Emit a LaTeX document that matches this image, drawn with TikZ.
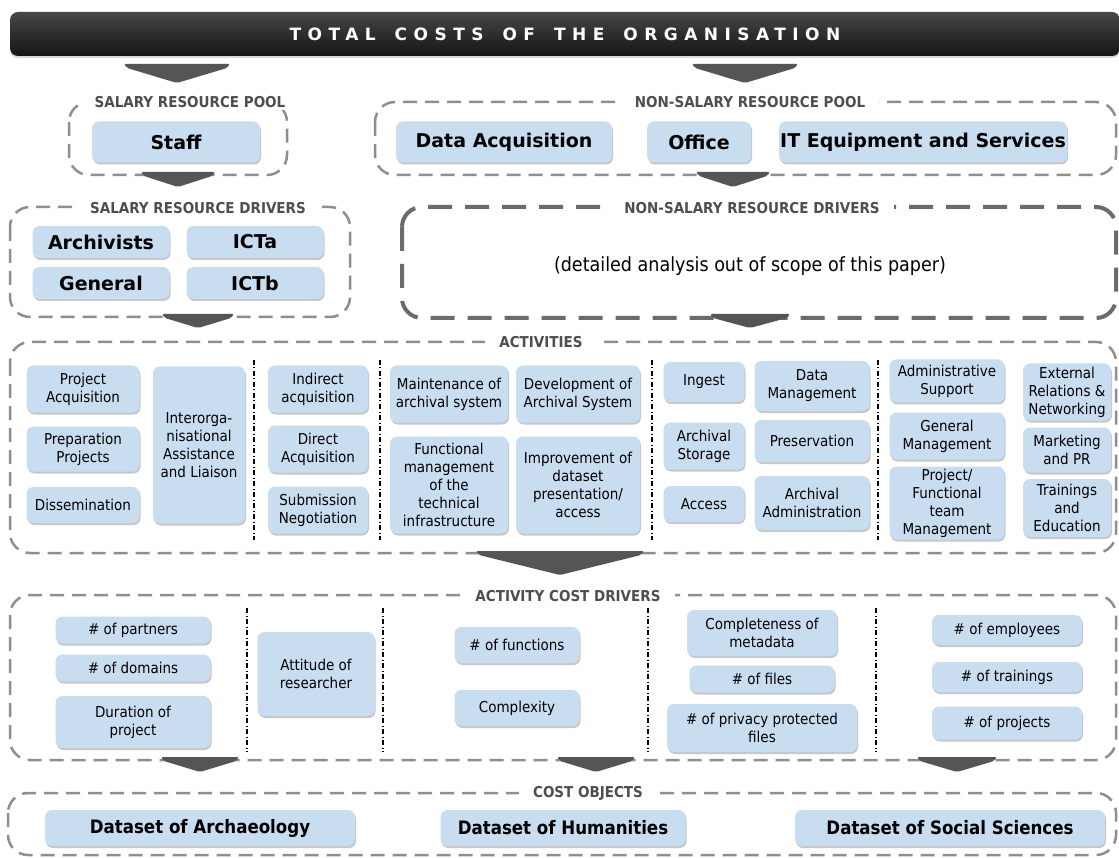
\documentclass[tikz,border=0pt]{standalone}
\usepackage{fontspec}
\setmainfont{DejaVu Sans Condensed}
\newfontfamily\widefam{DejaVu Sans}
\usetikzlibrary{positioning, shadows}

\definecolor{boxblue}{HTML}{C9DDF1}
\definecolor{dashgray}{HTML}{8E8E8E}
\definecolor{chevgray}{HTML}{555555}
\definecolor{labgray}{HTML}{4E4E4E}

\tikzset{
  act/.style={rectangle, rounded corners=7pt, fill=boxblue, inner sep=0pt, align=center,
    font=\fontsize{15}{18}\selectfont,
    drop shadow={shadow xshift=1pt, shadow yshift=-2pt, fill=black, opacity=0.22}},
  res/.style={act, font=\widefam\bfseries\fontsize{19}{21}\selectfont},
  obj/.style={act, font=\bfseries\fontsize{18.5}{21}\selectfont},
  grp/.style={draw=dashgray, line width=2.5pt, dash pattern=on 14pt off 8pt, rounded corners=20pt},
  grplabel/.style={fill=white, inner xsep=14pt, inner ysep=2pt, text=labgray,
    font=\bfseries\fontsize{15}{17}\selectfont},
  sep/.style={line width=1.3pt, dash pattern=on 5pt off 2.5pt on 1pt off 2.5pt},
  chev/.style={fill=chevgray, rounded corners=2pt},
}
\newcommand{\chevron}[4]{% centre x, top y, width, height
  \fill[chev] (#1-#3/2,#2) -- (#1+#3/2,#2) -- (#1+#3/2-3,#2+4) -- (#1,#2+#4) -- (#1-#3/2+3,#2+4) -- cycle;}
\newcommand{\wgap}{\hspace{19pt}}

\begin{document}
\begin{tikzpicture}[x=1pt, y=-1pt]
  \clip (0,0) rectangle (1119,858);
  \fill[white] (0,0) rectangle (1119,858);

  % header
  \node[rectangle, rounded corners=8pt, minimum width=1110pt, minimum height=44pt,
        top color=black!72, bottom color=black!92, text=white,
        drop shadow={shadow xshift=0pt, shadow yshift=-2pt, opacity=0.3},
        font=\widefam\bfseries\fontsize{17}{19}\selectfont\addfontfeature{LetterSpace=38}]
        (total) at (565,34) {TOTAL\wgap COSTS\wgap OF\wgap THE\wgap ORGANISATION};
  \chevron{177}{64}{106}{19}
  \chevron{745}{64}{106}{19}

  % resource pools
  \draw[grp] (69,102) rectangle (287,175);
  \draw[grp] (375,102) rectangle (1116,175);
  \node[grplabel] (lsalpool) at (190,102) {SALARY RESOURCE POOL};
  \node[grplabel] (lnonpool) at (750,102) {NON-SALARY RESOURCE POOL};
  \node[res, minimum width=168pt, minimum height=41pt] (staff) at (176,142) {Staff};
  \node[res, minimum width=216pt, minimum height=41pt] (dataacq) at (504,142) {Data Acquisition};
  \node[res, minimum width=104pt, minimum height=41pt] (office) at (699,142) {Office};
  \node[res, minimum width=288pt, minimum height=41pt] (itequip) at (923,142) {IT Equipment and Services};
  \chevron{178}{172}{74}{15}
  \chevron{733}{172}{74}{15}

  % resource drivers
  \draw[grp] (10,207) rectangle (350,317);
  \draw[grp, draw=black!58, line width=4pt, dash pattern=on 24pt off 13pt] (402,207) rectangle (1116,318);
  \node[grplabel] (lsaldrv) at (198,208) {SALARY RESOURCE DRIVERS};
  \node[grplabel] (lnondrv) at (752,208) {NON-SALARY RESOURCE DRIVERS};
  \node[res, minimum width=137pt, minimum height=32pt] (archiv) at (101,242) {Archivists};
  \node[res, minimum width=137pt, minimum height=32pt] (icta) at (255,242) {ICTa};
  \node[res, minimum width=137pt, minimum height=32pt] (general) at (101,283) {General};
  \node[res, minimum width=137pt, minimum height=32pt] (ictb) at (255,283) {ICTb};
  \node[font=\fontsize{19.5}{22}\selectfont] (scope) at (750,266) {(detailed analysis out of scope of this paper)};
  \chevron{198}{314}{72}{14}
  \chevron{750}{314}{80}{14}

  % activities
  \draw[grp] (10,342) rectangle (1116,553);
  \node[grplabel] (lact) at (541,342) {ACTIVITIES};
  \node[act, minimum width=113pt, minimum height=47pt] (pacq) at (83,389) {Project\\Acquisition};
  \node[act, minimum width=113pt, minimum height=45pt] (pprep) at (83,449) {Preparation\\Projects};
  \node[act, minimum width=113pt, minimum height=36pt] (dissem) at (83,505) {Dissemination};
  \node[act, minimum width=92pt, minimum height=157pt] (inter) at (199,445) {Interorga-\\nisational\\Assistance\\and Liaison};
  \draw[sep] (254,360) -- (254,540);
  \node[act, minimum width=100pt, minimum height=47pt] (indacq) at (318,389) {Indirect\\acquisition};
  \node[act, minimum width=100pt, minimum height=47pt] (diracq) at (318,449) {Direct\\Acquisition};
  \node[act, minimum width=100pt, minimum height=47pt] (subneg) at (318,510) {Submission\\Negotiation};
  \draw[sep] (380,360) -- (380,540);
  \node[act, minimum width=118pt, minimum height=57pt] (maint) at (449,394) {Maintenance of\\archival system};
  \node[act, minimum width=124pt, minimum height=57pt] (devel) at (578,394) {Development of\\Archival System};
  \node[act, minimum width=118pt, minimum height=97pt] (funcm) at (449,485) {Functional\\management\\of the\\technical\\infrastructure};
  \node[act, minimum width=124pt, minimum height=97pt] (improv) at (578,485) {Improvement of\\dataset\\presentation/\\access};
  \draw[sep] (652,360) -- (652,540);
  \node[act, minimum width=81pt, minimum height=40pt] (ingest) at (704,382) {Ingest};
  \node[act, minimum width=115pt, minimum height=50pt] (datam) at (812,386) {Data\\Management};
  \node[act, minimum width=81pt, minimum height=47pt] (astor) at (704,446) {Archival\\Storage};
  \node[act, minimum width=115pt, minimum height=42pt] (pres) at (812,441) {Preservation};
  \node[act, minimum width=81pt, minimum height=36pt] (access) at (704,504) {Access};
  \node[act, minimum width=115pt, minimum height=54pt] (aadmin) at (812,503) {Archival\\Administration};
  \draw[sep] (878,360) -- (878,540);
  \node[act, minimum width=115pt, minimum height=43pt] (admsup) at (947,381) {Administrative\\Support};
  \node[act, minimum width=115pt, minimum height=47pt] (genm) at (947,436) {General\\Management};
  \node[act, minimum width=115pt, minimum height=73pt] (projm) at (947,503) {Project/\\Functional\\team\\Management};
  \node[act, minimum width=88pt, minimum height=57pt] (extrel) at (1067,392) {External\\Relations \&\\Networking};
  \node[act, minimum width=88pt, minimum height=45pt] (market) at (1067,450) {Marketing\\and PR};
  \node[act, minimum width=88pt, minimum height=58pt] (trainedu) at (1067,508) {Trainings\\and\\Education};
  \chevron{560}{551}{168}{24}

  % activity cost drivers
  \draw[grp] (10,595) rectangle (1116,760);
  \node[grplabel] (lacd) at (568,596) {ACTIVITY COST DRIVERS};
  \node[act, minimum width=155pt, minimum height=27pt] (npart) at (133,630) {\# of partners};
  \node[act, minimum width=155pt, minimum height=27pt] (ndom) at (133,668) {\# of domains};
  \node[act, minimum width=155pt, minimum height=52pt] (dur) at (133,722) {Duration of\\project};
  \draw[sep] (247,608) -- (247,752);
  \node[act, minimum width=117pt, minimum height=84pt] (attit) at (316,674) {Attitude of\\researcher};
  \draw[sep] (383,608) -- (383,752);
  \node[act, minimum width=125pt, minimum height=36pt] (nfunc) at (517,645) {\# of functions};
  \node[act, minimum width=125pt, minimum height=36pt] (compl) at (517,708) {Complexity};
  \draw[sep] (648,608) -- (648,752);
  \node[act, minimum width=150pt, minimum height=46pt] (compmeta) at (762,633) {Completeness of\\metadata};
  \node[act, minimum width=145pt, minimum height=27pt] (nfiles) at (762,679) {\# of files};
  \node[act, minimum width=190pt, minimum height=48pt] (npriv) at (762,728) {\# of privacy protected\\files};
  \draw[sep] (876,608) -- (876,752);
  \node[act, minimum width=150pt, minimum height=30pt] (nemp) at (1007,630) {\# of employees};
  \node[act, minimum width=150pt, minimum height=30pt] (ntrain) at (1007,677) {\# of trainings};
  \node[act, minimum width=150pt, minimum height=33pt] (nproj) at (1007,723) {\# of projects};
  \chevron{200}{757}{78}{15}
  \chevron{596}{757}{78}{15}
  \chevron{957}{757}{80}{15}

  % cost objects
  \draw[grp] (8,793) rectangle (1116,855);
  \node[grplabel] (lcobj) at (588,793) {COST OBJECTS};
  \node[obj, minimum width=310pt, minimum height=36pt] (arch) at (200,828) {Dataset of Archaeology};
  \node[obj, minimum width=245pt, minimum height=36pt] (hum) at (563,828) {Dataset of Humanities};
  \node[obj, minimum width=310pt, minimum height=36pt] (soc) at (950,828) {Dataset of Social Sciences};
\end{tikzpicture}
\end{document}
